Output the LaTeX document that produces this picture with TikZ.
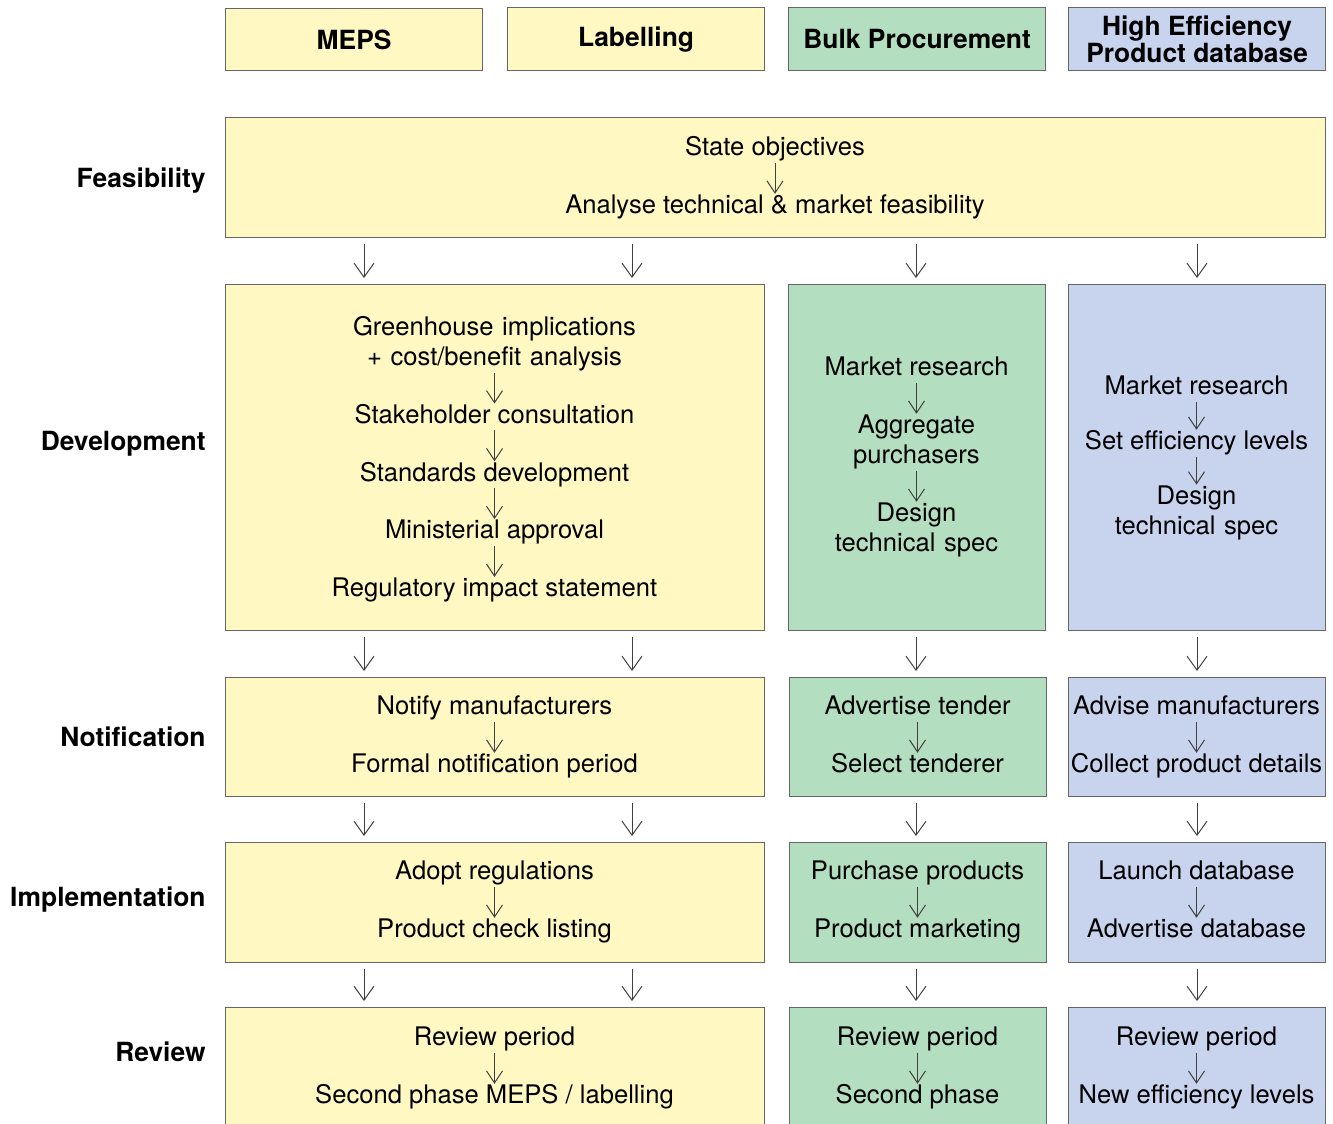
\documentclass[tikz,border=0pt]{standalone}
\usepackage{xcolor}
\usepackage{fontspec}
\setmainfont{TeX Gyre Heros}
\usetikzlibrary{positioning,arrows.meta}

\definecolor{mepsfill}{HTML}{FFF8C2}
\definecolor{bulkfill}{HTML}{B3DEBF}
\definecolor{dbfill}{HTML}{C8D3EE}

\tikzset{
  panel/.style={draw=black!60, line width=0.6pt, inner sep=0pt, anchor=north west},
  colhead/.style={panel, font=\fontsize{13.2}{13.5}\selectfont\bfseries, align=center},
  rowname/.style={anchor=base east, inner sep=0pt, font=\fontsize{13.2}{15}\selectfont\bfseries},
  stage/.style={inner sep=0pt, font=\fontsize{12.8}{15}\selectfont, text height=9.2pt, text depth=2.8pt},
  stagetwo/.style={inner sep=0pt, font=\fontsize{12.8}{15}\selectfont, align=center, text width=#1},
  flow/.style={draw=black!75, line width=0.5pt, -{Straight Barb[length=7pt,width=10pt]}, shorten <=3pt, shorten >=3pt},
  inflow/.style={draw=black!75, line width=0.5pt, -{Straight Barb[length=6pt,width=8pt]}, shorten <=0.5pt, shorten >=0.5pt},
}

\begin{document}
\begin{tikzpicture}[x=0.5pt, y=-0.5pt, node distance=16.5pt]
  \useasboundingbox (0,0) rectangle (1333,1124);
  \clip (0,0) rectangle (1333,1124);

  % column heads
  \node[colhead, fill=mepsfill, minimum width=128.5pt, minimum height=31pt] (mepsh) at (225,8) {MEPS};
  \node[colhead, fill=mepsfill, minimum width=128.5pt, minimum height=31.5pt] (labh) at (507,7) {Labelling};
  \node[colhead, fill=bulkfill, minimum width=128.5pt, minimum height=31.5pt] (bulkh) at (788,7) {Bulk Procurement};
  \node[colhead, fill=dbfill, minimum width=128.5pt, minimum height=31.5pt] (dbh) at (1068,7) {High Efficiency\\Product database};

  % panels
  \node[panel, fill=mepsfill, minimum width=550pt, minimum height=60pt] (feas) at (225,117) {};
  \node[panel, fill=mepsfill, minimum width=269.5pt, minimum height=173pt] (devA) at (225,284) {};
  \node[panel, fill=bulkfill, minimum width=128.5pt, minimum height=173pt] (devB) at (788,284) {};
  \node[panel, fill=dbfill, minimum width=128.5pt, minimum height=173pt] (devC) at (1068,284) {};
  \node[panel, fill=mepsfill, minimum width=269.5pt, minimum height=59.5pt] (notA) at (225,677) {};
  \node[panel, fill=bulkfill, minimum width=128.5pt, minimum height=59.5pt] (notB) at (789,677) {};
  \node[panel, fill=dbfill, minimum width=128.5pt, minimum height=59.5pt] (notC) at (1068,677) {};
  \node[panel, fill=mepsfill, minimum width=269.5pt, minimum height=60pt] (impA) at (225,842) {};
  \node[panel, fill=bulkfill, minimum width=128.5pt, minimum height=60pt] (impB) at (789,842) {};
  \node[panel, fill=dbfill, minimum width=128.5pt, minimum height=60pt] (impC) at (1068,842) {};
  \node[panel, fill=mepsfill, minimum width=269.5pt, minimum height=70pt] (revA) at (225,1007) {};
  \node[panel, fill=bulkfill, minimum width=128.5pt, minimum height=70pt] (revB) at (789,1007) {};
  \node[panel, fill=dbfill, minimum width=128.5pt, minimum height=70pt] (revC) at (1068,1007) {};

  % row names
  \node[rowname] (lfeas) at (206,187) {Feasibility};
  \node[rowname] (ldev) at (206,450) {Development};
  \node[rowname] (lnot) at (206,746) {Notification};
  \node[rowname] (limp) at (206,906) {Implementation};
  \node[rowname] (lrev) at (206,1061) {Review};

  % feasibility
  \node[stage, anchor=north] (fso) at (775,137) {State objectives};
  \node[stage, below=of fso] (fan) {Analyse technical \& market feasibility};

  % development
  \node[stagetwo=200pt, anchor=north] (dgh) at (494.5,316) {Greenhouse implications\\+ cost/benefit analysis};
  \node[stage, below=of dgh] (dsc) {Stakeholder consultation};
  \node[stage, below=of dsc] (dsd) {Standards development};
  \node[stage, below=of dsd] (dma) {Ministerial approval};
  \node[stage, below=of dma] (dri) {Regulatory impact statement};

  \node[stage, anchor=north] (bmr) at (916.5,357) {Market research};
  \node[stagetwo=120pt, below=of bmr] (bap) {Aggregate\\purchasers};
  \node[stagetwo=120pt, below=of bap] (bds) {Design\\technical spec};

  \node[stage, anchor=north] (hmr) at (1196.5,376) {Market research};
  \node[stage, below=15pt of hmr] (hse) {Set efficiency levels};
  \node[stagetwo=120pt, below=15pt of hse] (hds) {Design\\technical spec};

  % notification
  \node[stage, anchor=north] (nA1) at (494.5,696) {Notify manufacturers};
  \node[stage, below=of nA1] (nA2) {Formal notification period};
  \node[stage, anchor=north] (nB1) at (917.5,696) {Advertise tender};
  \node[stage, below=of nB1] (nB2) {Select tenderer};
  \node[stage, anchor=north] (nC1) at (1196.5,696) {Advise manufacturers};
  \node[stage, below=of nC1] (nC2) {Collect product details};

  % implementation
  \node[stage, anchor=north] (iA1) at (494.5,861) {Adopt regulations};
  \node[stage, below=of iA1] (iA2) {Product check listing};
  \node[stage, anchor=north] (iB1) at (917.5,861) {Purchase products};
  \node[stage, below=of iB1] (iB2) {Product marketing};
  \node[stage, anchor=north] (iC1) at (1196.5,861) {Launch database};
  \node[stage, below=of iC1] (iC2) {Advertise database};

  % review
  \node[stage, anchor=north] (rA1) at (494.5,1027) {Review period};
  \node[stage, below=of rA1] (rA2) {Second phase MEPS / labelling};
  \node[stage, anchor=north] (rB1) at (917.5,1027) {Review period};
  \node[stage, below=of rB1] (rB2) {Second phase};
  \node[stage, anchor=north] (rC1) at (1196.5,1027) {Review period};
  \node[stage, below=of rC1] (rC2) {New efficiency levels};

  \foreach \a/\b in {fso/fan, dgh/dsc, dsc/dsd, dsd/dma, dma/dri, bmr/bap, bap/bds,
                     hmr/hse, hse/hds, nA1/nA2, nB1/nB2, nC1/nC2, iA1/iA2, iB1/iB2,
                     iC1/iC2, rA1/rA2, rB1/rB2, rC1/rC2}
    \draw[inflow] (\a) -- (\b);

  % arrows between the rows
  \coordinate (colA) at (364,0);
  \coordinate (colB) at (632,0);
  \coordinate (colC) at (916,0);
  \coordinate (colD) at (1197,0);
  \foreach \fromrow/\torow in {feas/devA, devA/notA, notA/impA, impA/revA}
    \foreach \c in {colA,colB,colC,colD}
      \draw[flow] (\fromrow.south -| \c) -- (\torow.north -| \c);
\end{tikzpicture}
\end{document}
